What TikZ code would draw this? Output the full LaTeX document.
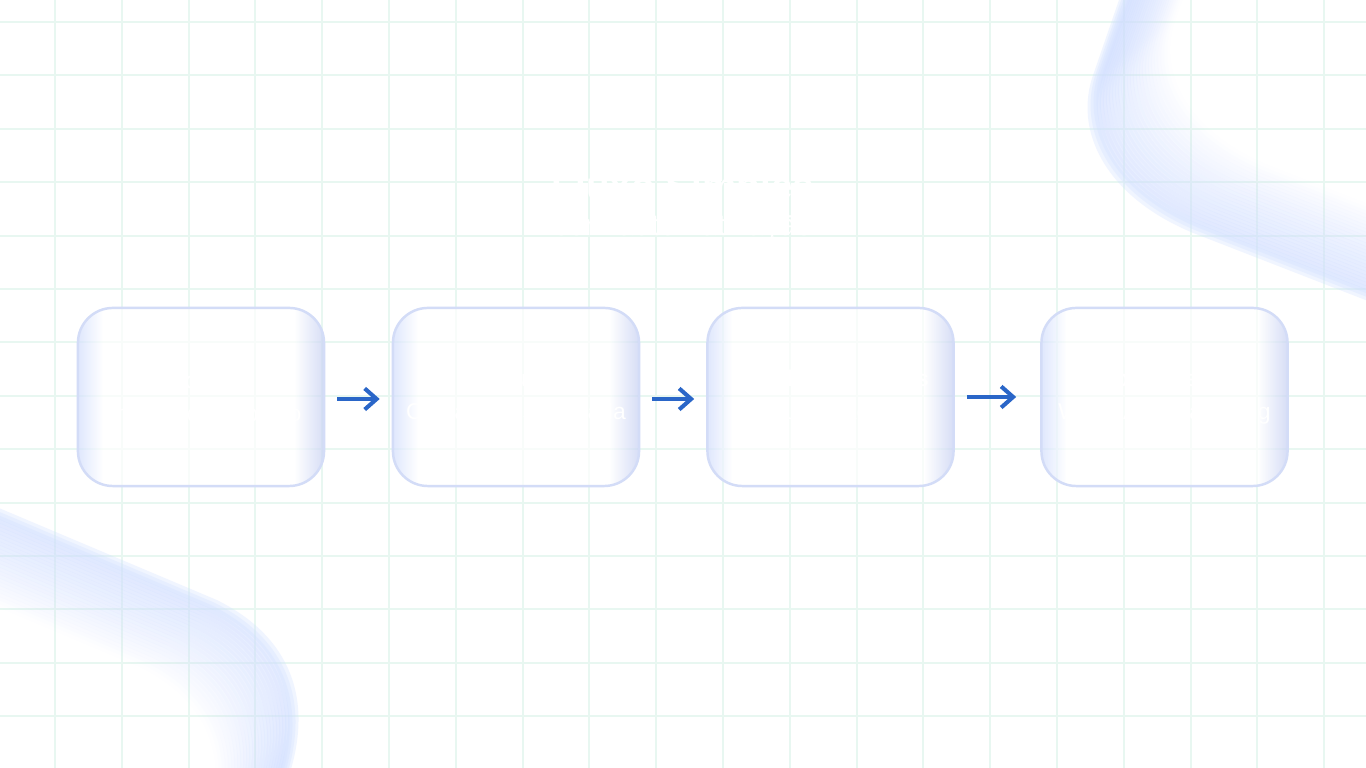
\documentclass[tikz,border=0pt]{standalone}
\usepackage{fontspec}
\setmainfont{Liberation Sans}
\usepackage{tikz}
\usetikzlibrary{arrows.meta}

\definecolor{gridmint}{HTML}{E8F7F1}
\definecolor{blobblue}{HTML}{D0DEFF}
\definecolor{edgeblue}{HTML}{C6D0F3}
\definecolor{sideblue}{HTML}{D2DEFD}
\definecolor{rimblue}{HTML}{D3DCF7}
\definecolor{arrowblue}{HTML}{2A66C8}

\pgfdeclarehorizontalshading{glass}{100bp}{color(0bp)=(sideblue); color(25bp)=(sideblue);
    color(30bp)=(white); color(69bp)=(white); color(75bp)=(edgeblue); color(100bp)=(edgeblue)}

\begin{document}
\begin{tikzpicture}[x=0.01cm, y=-0.01cm,
    stage/.style={rounded corners=0.35cm, minimum width=2.46cm, minimum height=1.78cm,
        shading=glass, fill opacity=0.7, text opacity=1, draw=rimblue, line width=0.7pt,
        text=white, align=center, font=\fontsize{6.5}{9.5}\selectfont},
    flow/.style={-{Straight Barb[length=3.4pt, width=6pt]}, arrowblue, line width=1.15pt}]
    \useasboundingbox (0,0) rectangle (1366,768);
    \fill[white] (0,0) rectangle (1366,768);
    % grid
    \foreach \i in {0,...,19}
        \draw[gridmint, line width=0.6pt] (55+66.8*\i,0) -- ++(0,768);
    \foreach \j in {0,...,13}
        \draw[gridmint, line width=0.6pt] (0,22+53.4*\j) -- ++(1366,0);
    % soft bands in the corners
    \foreach \k in {0,...,24}
        \draw[blobblue, line width=3pt, opacity=0.3-0.012*\k]
            ([shift={(3*\k,-2.4*\k)}]1128,-10) -- ([shift={(3*\k,-2.4*\k)}]1097,80)
            .. controls ([shift={(3*\k,-2.4*\k)}]1080,135) and ([shift={(3*\k,-2.4*\k)}]1115,195) .. ([shift={(3*\k,-2.4*\k)}]1195,228)
            -- ([shift={(3*\k,-2.4*\k)}]1380,300);
    \foreach \k in {0,...,24}
        \draw[blobblue, line width=3pt, opacity=0.3-0.012*\k]
            ([shift={(-3*\k,2.4*\k)}]-10,510) -- ([shift={(-3*\k,2.4*\k)}]215,605)
            .. controls ([shift={(-3*\k,2.4*\k)}]285,640) and ([shift={(-3*\k,2.4*\k)}]310,700) .. ([shift={(-3*\k,2.4*\k)}]282,780);
    % title
    \node[text=white, font=\fontsize{11}{13}\selectfont\bfseries] (title) at (683,190) {Fluxo Simples};
    \node[text=white, font=\fontsize{8.5}{10}\selectfont] (subtitle) at (683,228) {com automatização};
    % stages
    \node[stage] (inscricao) at (201,397) {\textbf{Inscrição}\\Entrada de trabalho};
    \node[stage] (formulario) at (516,397) {\textbf{Formulário}\\Captação estruturada};
    \node[stage] (planilha) at (830.5,397) {\textbf{Planilha de Dados}\\Qualificação};
    \node[stage] (disparo) at (1164.5,397) {\textbf{Disparo de Msg}\\WhatsApp Marketing};
    % arrows
    \draw[flow, shorten <=0.12cm, shorten >=0.12cm] ([yshift=-0.02cm]inscricao.east) -- ([yshift=-0.02cm]formulario.west);
    \draw[flow, shorten <=0.12cm, shorten >=0.12cm] ([yshift=-0.02cm]formulario.east) -- ([yshift=-0.02cm]planilha.west);
    \draw[flow, shorten <=0.12cm, shorten >=0.24cm] (planilha.east) -- (disparo.west);
\end{tikzpicture}
\end{document}
